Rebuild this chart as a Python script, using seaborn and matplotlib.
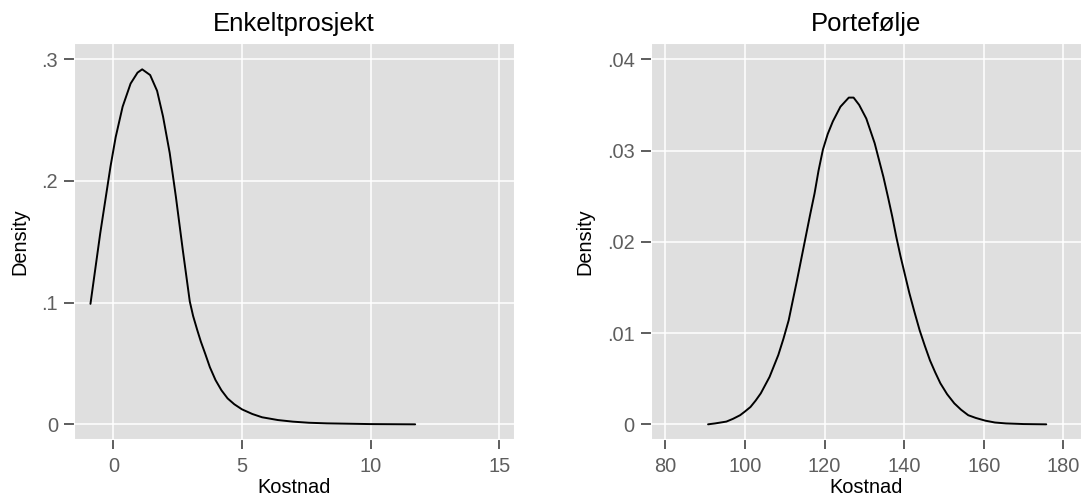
"""
Gęstość kosztów — enkeltprosjekt vs portefølje (odtworzenie wykresu).
"""

import matplotlib
matplotlib.use('Agg')
import matplotlib.pyplot as plt
from matplotlib.ticker import FuncFormatter
import seaborn as sns

# --- dane ---
enkelt_kostnad = [-0.89, -0.51, -0.11, 0.09, 0.36, 0.67, 0.94, 1.12, 1.43, 1.70,
                  1.93, 2.19, 2.43, 2.70, 2.97, 3.10, 3.26, 3.40, 3.57, 3.75,
                  3.97, 4.20, 4.44, 4.70, 5.00, 5.40, 5.78, 6.40, 6.98, 7.60,
                  8.30, 10.00, 11.73]
enkelt_density = [0.099, 0.157, 0.212, 0.236, 0.261, 0.280, 0.289, 0.2917, 0.287, 0.274,
                  0.253, 0.223, 0.187, 0.143, 0.101, 0.089, 0.0775, 0.068, 0.058, 0.047,
                  0.0364, 0.028, 0.0213, 0.0165, 0.0123, 0.0085, 0.0058, 0.0035, 0.0022, 0.0013,
                  0.0008, 0.0002, 0.0]

portefolje_kostnad = [90.75, 92.5, 95.35, 97.0, 98.8, 100.0, 101.4, 102.7, 104.0, 106.2,
                      108.4, 109.7, 111.0, 112.0, 113.1, 114.2, 115.3, 116.4, 117.5, 118.5,
                      119.6, 120.8, 122.1, 124.0, 126.1, 127.3, 128.7, 130.5, 132.6, 134.8,
                      136.0, 137.0, 138.0, 139.1, 140.2, 141.3, 142.6, 143.9, 145.2, 146.5,
                      147.8, 149.1, 150.8, 152.6, 154.3, 156.1, 158.0, 160.4, 162.8, 165.6,
                      170.0, 175.7]
portefolje_density = [0.0, 0.0001, 0.0003, 0.0006, 0.001, 0.0014, 0.0019, 0.0026, 0.0034, 0.0052,
                      0.0076, 0.0094, 0.0114, 0.0135, 0.0158, 0.0182, 0.0206, 0.0230, 0.0253, 0.0278,
                      0.0301, 0.0318, 0.0332, 0.0348, 0.0358, 0.0358, 0.0350, 0.0335, 0.0308, 0.0271,
                      0.0248, 0.0228, 0.0206, 0.0184, 0.0164, 0.0144, 0.0123, 0.0103, 0.0086, 0.0070,
                      0.0057, 0.0045, 0.0033, 0.0023, 0.0016, 0.0010, 0.0007, 0.0004, 0.0002, 0.0001,
                      0.00003, 0.0]

titles = ['Enkeltprosjekt', 'Portefølje']
x_ticks = [[0, 5, 10, 15], [80, 100, 120, 140, 160, 180]]
y_ticks = [[0, 0.1, 0.2, 0.3], [0, 0.01, 0.02, 0.03, 0.04]]
x_limits = [(-1.53, 15.57), (76.33, 184.4)]
y_limits = [(-0.0123, 0.3131), (-0.00164, 0.04175)]

TICK_GREY = '#505050'
LABEL_GREY = '#5e5e5e'

sns.set_style('darkgrid', {
    'axes.facecolor': '#DFDFDF',
    'grid.color': 'white',
    'xtick.bottom': True,
    'ytick.left': True,
})
plt.rcParams['font.family'] = ['Liberation Sans', 'DejaVu Sans']
plt.rcParams['grid.linewidth'] = 1.1


def strip_zero(v, pos):
    """'0.1' -> '.1', jak w oryginale (ggplot)."""
    s = f'{v:g}'
    return s[1:] if s.startswith('0.') else s


fig = plt.figure(figsize=(10.81, 4.97), dpi=100)
ax_left = fig.add_axes([0.06845, 0.1161, 0.4070, 0.7968])
ax_right = fig.add_axes([0.6019, 0.1161, 0.3980, 0.7968])

series = [(enkelt_kostnad, enkelt_density), (portefolje_kostnad, portefolje_density)]

for i, (ax, (xs, ys)) in enumerate(zip([ax_left, ax_right], series)):
    sns.lineplot(x=xs, y=ys, ax=ax, color='black', linewidth=1.4,
                 sort=False, estimator=None)
    ax.set_xlim(*x_limits[i])
    ax.set_ylim(*y_limits[i])
    ax.set_xticks(x_ticks[i])
    ax.set_yticks(y_ticks[i])
    ax.yaxis.set_major_formatter(FuncFormatter(strip_zero))
    ax.tick_params(axis='both', bottom=True, left=True, direction='out',
                   length=7, width=1.3, color=TICK_GREY,
                   labelcolor=LABEL_GREY, labelsize=14.4, pad=4.5)
    ax.tick_params(axis='x', pad=6)
    ax.set_title(titles[i], fontsize=18.5, color='black', pad=9)
    ax.set_xlabel('Kostnad', fontsize=14.4, color='black', labelpad=1)
    ax.set_ylabel('Density', fontsize=14.4, color='black', labelpad=9)

fig.savefig('out.png', dpi=100)
plt.close()
